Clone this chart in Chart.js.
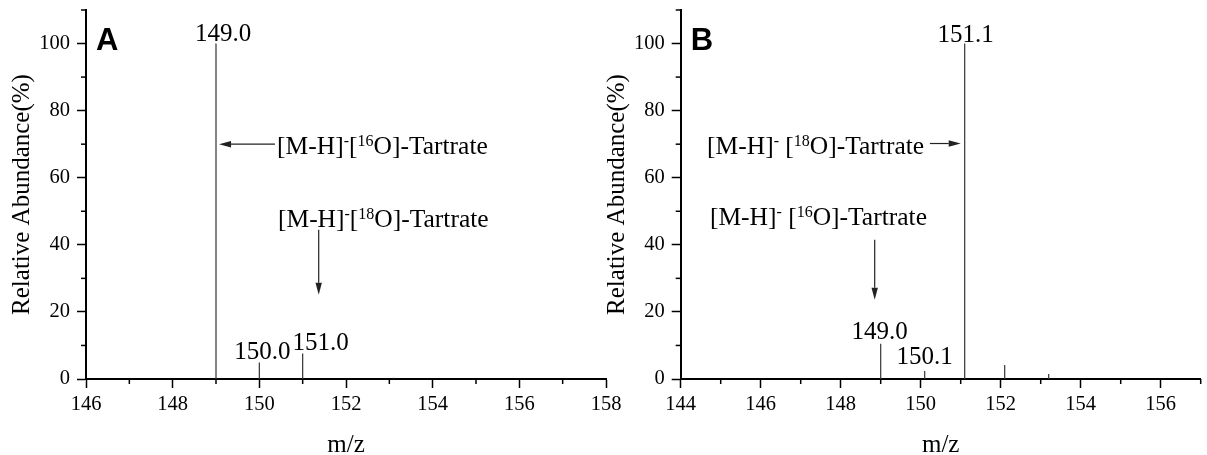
<!DOCTYPE html>
<html>
<head>
<meta charset="utf-8">
<script src="https://cdn.jsdelivr.net/npm/chart.js@4.4.1/dist/chart.umd.min.js"></script>
<style>
  html, body { margin: 0; padding: 0; background: #fff; }
  body { width: 1207px; height: 455px; position: relative; overflow: hidden; }
  canvas { position: absolute; top: 0; }
  #chartA { left: 0; }
  #chartB { left: 596px; }
</style>
</head>
<body>
<canvas id="chartA" width="626" height="455"></canvas>
<canvas id="chartB" width="611" height="455"></canvas>
<script>
// spectrum A ([16O]-tartrate)
const mzA = [149.0, 150.0, 151.0, 153.1];
const abundanceA = [100, 4.9, 7.6, 0.4];
const peakLabelsA = ["149.0", "150.0", "151.0", ""];

// spectrum B ([18O]-tartrate)
const mzB = [149.0, 150.1, 151.1, 152.1, 153.2];
const abundanceB = [10.5, 2.4, 100, 4.2, 1.5];
const peakLabelsB = ["149.0", "150.1", "151.1", "", ""];

const xTicksA = [146, 148, 150, 152, 154, 156, 158];
const xTicksB = [144, 146, 148, 150, 152, 154, 156];
const yTicks = [0, 20, 40, 60, 80, 100];
const yRange = [0, 110];

const SERIF = '"Liberation Serif", "Times New Roman", serif';

// builds the stick spectrum: one vertical segment per peak
const sticks = (mz, ab) => mz.flatMap((m, i) => [{ x: m, y: 0 }, { x: m, y: ab[i] }, { x: m, y: null }]);

const line = (ctx, x1, y1, x2, y2) => {
  ctx.beginPath(); ctx.moveTo(x1, y1); ctx.lineTo(x2, y2); ctx.stroke();
};

const arrow = (ctx, x1, y1, x2, y2) => {
  const ang = Math.atan2(y2 - y1, x2 - x1);
  const len = 12, hw = 3.2;
  const bx = x2 - len * Math.cos(ang), by = y2 - len * Math.sin(ang);
  line(ctx, x1, y1, bx, by);
  ctx.beginPath();
  ctx.moveTo(x2, y2);
  ctx.lineTo(bx + hw * Math.sin(ang), by - hw * Math.cos(ang));
  ctx.lineTo(bx - hw * Math.sin(ang), by + hw * Math.cos(ang));
  ctx.closePath();
  ctx.fill();
};

// text with superscripts, parts = [[text, isSup], ...]
const richText = (ctx, parts, x, y) => {
  let cx = x;
  parts.forEach(([t, sup]) => {
    ctx.font = sup ? "16px " + SERIF : "25.5px " + SERIF;
    ctx.fillText(t, cx, sup ? y - 8 : y);
    cx += ctx.measureText(t).width;
  });
};

// no extra room for overhanging labels: chart area is fixed
const noPad = s => { s.paddingTop = 0; s.paddingBottom = 0; s.paddingLeft = 0; s.paddingRight = 0; };

const spectrumDecor = {
  id: "spectrumDecor",
  afterDraw(chart, args, opts) {
    const { ctx, scales: { x, y }, chartArea } = chart;
    ctx.save();
    ctx.strokeStyle = "#000";
    ctx.fillStyle = "#000";

    // minor ticks
    ctx.lineWidth = 1.5;
    x.ticks.forEach(t => {
      if (t.value % 2 !== 0) {
        const px = x.getPixelForValue(t.value);
        line(ctx, px, chartArea.bottom, px, chartArea.bottom + 5);
      }
    });
    y.ticks.forEach(t => {
      if (t.value % 20 !== 0) {
        const py = y.getPixelForValue(t.value);
        line(ctx, chartArea.left - 5, py, chartArea.left, py);
      }
    });

    // peak labels
    ctx.font = "25px " + SERIF;
    ctx.textAlign = "center";
    ctx.textBaseline = "alphabetic";
    opts.mz.forEach((m, i) => {
      if (!opts.labels[i]) return;
      const [dx, dy] = opts.offsets[i];
      ctx.fillText(opts.labels[i], x.getPixelForValue(m) + dx, y.getPixelForValue(opts.ab[i]) + dy);
    });

    // annotations with arrows
    ctx.textAlign = "left";
    ctx.lineWidth = 1.2;
    opts.notes.forEach(n => {
      const [a, b] = n.arrow;
      ctx.strokeStyle = "#222";
      ctx.fillStyle = "#222";
      arrow(ctx, x.getPixelForValue(a[0]), y.getPixelForValue(a[1]), x.getPixelForValue(b[0]), y.getPixelForValue(b[1]));
      ctx.fillStyle = "#000";
      richText(ctx, n.parts, x.getPixelForValue(n.at[0]), y.getPixelForValue(n.at[1]));
    });

    // panel letter
    ctx.fillStyle = "#000";
    ctx.font = 'bold 31px "Liberation Sans", Arial, sans-serif';
    ctx.fillText(opts.letter, chartArea.left + 10, chartArea.top + 40);
    ctx.restore();
  }
};

function makeChart(id, mz, ab, labels, xRange, xTickLabels, yWidth, padRight, titlePad, decor) {
  return new Chart(document.getElementById(id), {
    type: "line",
    data: {
      datasets: [{
        data: sticks(mz, ab),
        borderColor: "#333",
        borderWidth: 1.2,
        pointRadius: 0,
        spanGaps: false,
        tension: 0
      }]
    },
    options: {
      responsive: false,
      animation: false,
      layout: { autoPadding: false, padding: { left: 0, top: 10, right: padRight, bottom: 0 } },
      plugins: {
        legend: { display: false },
        tooltip: { enabled: false },
        spectrumDecor: Object.assign({ mz: mz, ab: ab, labels: labels }, decor)
      },
      scales: {
        x: {
          type: "linear",
          min: xRange[0],
          max: xRange[1],
          afterFit: s => { s.height = 76; noPad(s); },
          border: { display: true, color: "#000", width: 2 },
          grid: {
            drawOnChartArea: false,
            drawTicks: true,
            tickLength: 9,
            tickWidth: 1.5,
            tickColor: c => (xTickLabels.includes(c.tick.value) ? "#000" : "rgba(0,0,0,0)")
          },
          ticks: {
            stepSize: 1,
            autoSkip: false,
            maxRotation: 0,
            padding: 4,
            color: "#000",
            font: { family: SERIF, size: 20.5 },
            callback: v => (xTickLabels.includes(v) ? String(v) : "")
          },
          title: {
            display: true,
            text: "m/z",
            color: "#000",
            font: { family: SERIF, size: 25, lineHeight: 0.8 },
            padding: { top: 0, bottom: 0 }
          }
        },
        y: {
          type: "linear",
          min: yRange[0],
          max: yRange[1],
          afterFit: s => { s.width = yWidth; noPad(s); },
          border: { display: true, color: "#000", width: 2 },
          grid: {
            drawOnChartArea: false,
            drawTicks: true,
            tickLength: 9,
            tickWidth: 1.5,
            tickColor: c => (yTicks.includes(c.tick.value) ? "#000" : "rgba(0,0,0,0)")
          },
          ticks: {
            stepSize: 10,
            autoSkip: false,
            padding: 7,
            color: "#000",
            font: { family: SERIF, size: 20.5 },
            callback: v => (yTicks.includes(v) ? String(v) : "")
          },
          title: {
            display: true,
            text: "Relative Abundance(%)",
            color: "#000",
            font: { family: SERIF, size: 25, lineHeight: 1.2 },
            padding: { top: titlePad, bottom: 0 }
          }
        }
      }
    },
    plugins: [spectrumDecor]
  });
}

makeChart("chartA", mzA, abundanceA, peakLabelsA, [146, 158], xTicksA, 86, 20, 7, {
  letter: "A",
  offsets: [[7, -3], [3, -3.6], [18, -3.5]],
  notes: [
    { parts: [["[M-H]"], ["-", 1], ["["], ["16", 1], ["O]-Tartrate"]], at: [150.41, 67.2], arrow: [[150.36, 70], [149.07, 70]] },
    { parts: [["[M-H]"], ["-", 1], ["["], ["18", 1], ["O]-Tartrate"]], at: [150.43, 45.4], arrow: [[151.37, 44.5], [151.37, 25.1]] }
  ]
});

makeChart("chartB", mzB, abundanceB, peakLabelsB, [144, 157], xTicksB, 84.7, 6.3, 6, {
  letter: "B",
  offsets: [[-1, -4.8], [0, -7], [1, -2]],
  notes: [
    { parts: [["[M-H]"], ["-", 1], [" ["], ["18", 1], ["O]-Tartrate"]], at: [144.66, 67.2], arrow: [[150.23, 70.2], [151.0, 70.2]] },
    { parts: [["[M-H]"], ["-", 1], [" ["], ["16", 1], ["O]-Tartrate"]], at: [144.73, 46.0], arrow: [[148.85, 41.5], [148.85, 23.6]] }
  ]
});
</script>
</body>
</html>
